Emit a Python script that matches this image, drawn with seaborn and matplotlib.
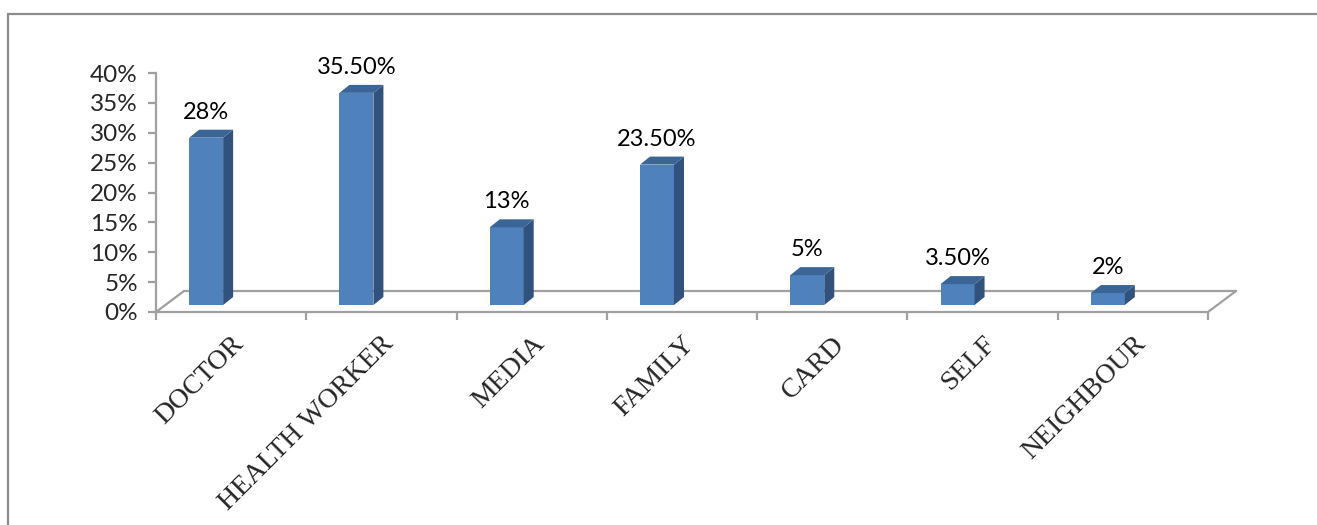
import matplotlib
matplotlib.use("Agg")
import matplotlib.pyplot as plt
import matplotlib.transforms as mtransforms
from matplotlib.patches import Polygon
from matplotlib.lines import Line2D
import seaborn as sns
import pandas as pd

# ---- data ----
categories = ["DOCTOR", "HEALTH WORKER", "MEDIA", "FAMILY", "CARD", "SELF", "NEIGHBOUR"]
values = [28, 35.5, 13, 23.5, 5, 3.5, 2]
value_labels = ["28%", "35.50%", "13%", "23.50%", "5%", "3.50%", "2%"]
y_ticks = [0, 5, 10, 15, 20, 25, 30, 35, 40]
y_tick_labels = ["0%", "5%", "10%", "15%", "20%", "25%", "30%", "35%", "40%"]

# ---- style ----
FRONT = "#4F81BD"
SIDE = "#31527C"
TOP = "#3B6596"
GRID = "#A0A0A0"
W, H, DPI = 1317, 525, 100

sns.set_theme(style="white")
plt.rcParams['font.family'] = ['Lato', 'DejaVu Sans']

fig = plt.figure(figsize=(W / DPI, H / DPI), dpi=DPI)
fig.patch.set_facecolor("white")

# outer chart border (top and left visible)
fig.add_artist(Line2D([8 / W, 1.0], [1 - 14 / H, 1 - 14 / H], transform=fig.transFigure,
                      color="#8C8C8C", lw=1.6))
fig.add_artist(Line2D([8 / W, 8 / W], [0, 1 - 14 / H], transform=fig.transFigure,
                      color="#8C8C8C", lw=1.6))

ax = fig.add_axes([156 / W, (H - 312) / H, 1052 / W, 239 / H])
df = pd.DataFrame({"cat": categories, "val": values})
sns.barplot(data=df, x="cat", y="val", order=categories, color=FRONT, width=0.226,
            saturation=1, ax=ax, edgecolor="none", linewidth=0)

ax.set_xlim(-0.5, len(categories) - 0.5)
ax.set_ylim(0, 40)

# pixel offsets (inches at dpi 100)
shift = mtransforms.ScaledTranslation(-25 / DPI, 7 / DPI, fig.dpi_scale_trans)
depth = (10, 8)  # px

fig.canvas.draw()
for p in list(ax.patches):
    p.set_transform(ax.transData + shift)
    p.set_clip_on(False)
    p.set_zorder(3)
    x0, x1 = p.get_x(), p.get_x() + p.get_width()
    h = p.get_height()
    (px0, py0), (px1, py1) = (ax.transData + shift).transform([(x0, 0), (x1, h)])
    dx, dy = depth
    side = Polygon([(px1, py0), (px1 + dx, py0 + dy), (px1 + dx, py1 + dy), (px1, py1)],
                   closed=True, transform=mtransforms.IdentityTransform(),
                   facecolor=SIDE, edgecolor="none", clip_on=False, zorder=3)
    top = Polygon([(px0, py1), (px1, py1), (px1 + dx, py1 + dy), (px0 + dx, py1 + dy)],
                  closed=True, transform=mtransforms.IdentityTransform(),
                  facecolor=TOP, edgecolor="none", clip_on=False, zorder=3)
    ax.add_artist(side)
    ax.add_artist(top)

# data labels
label_tr = ax.transData + mtransforms.ScaledTranslation(-25 / DPI, 26 / DPI, fig.dpi_scale_trans)
for i, (v, lab) in enumerate(zip(values, value_labels)):
    ax.text(i, v, lab, transform=label_tr, ha="center", va="baseline",
            fontsize=17, color="black", clip_on=False, zorder=4)

# 3-D floor
n = len(categories)
(fx0, fy0), (fx1, fy1) = ax.transData.transform([(-0.5, 0), (n - 0.5, 0)])
for xs, ys in [([fx0 + 28, fx1 + 28], [fy0 + 21, fy1 + 21]),
               ([fx0, fx0 + 28], [fy0, fy0 + 21]),
               ([fx1, fx1 + 28], [fy1, fy1 + 21])]:
    ax.add_artist(Line2D(xs, ys, transform=mtransforms.IdentityTransform(),
                         color=GRID, lw=1.6, clip_on=False, zorder=0.5))

# spines
for s in ["top", "right"]:
    ax.spines[s].set_visible(False)
for s in ["left", "bottom"]:
    ax.spines[s].set_color(GRID)
    ax.spines[s].set_linewidth(1.6)
    ax.spines[s].set_zorder(0.5)

ax.set_yticks(y_ticks)
ax.set_yticklabels(y_tick_labels, fontsize=17.5)
ax.tick_params(axis="y", which="major", direction="out", length=6, width=1.6,
               color=GRID, pad=7, left=True)

ax.set_xticks(range(n))
ax.set_xticks([i - 0.5 for i in range(n + 1)], minor=True)
ax.set_xticklabels(categories, rotation=45, ha="right", rotation_mode="anchor",
                   fontsize=20, family=["Liberation Serif", "DejaVu Serif"])
ax.tick_params(axis="x", which="major", length=0, pad=14)
ax.tick_params(axis="x", which="minor", direction="out", length=6, width=1.6,
               color=GRID, bottom=True)
xl_shift = mtransforms.ScaledTranslation(0 / DPI, 0, fig.dpi_scale_trans)
for t in ax.get_xticklabels():
    t.set_transform(t.get_transform() + xl_shift)

ax.set_xlabel("")
ax.set_ylabel("")
ax.patch.set_alpha(0)

fig.savefig("out.png", dpi=DPI, facecolor="white")
